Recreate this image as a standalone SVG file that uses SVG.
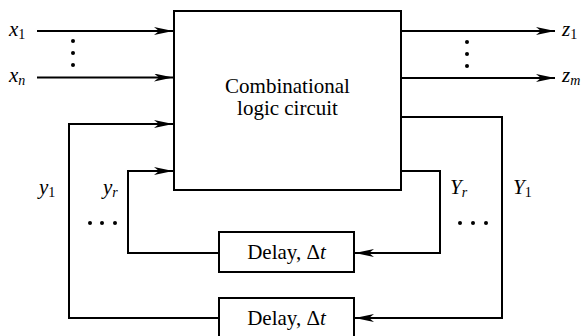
<svg xmlns="http://www.w3.org/2000/svg" width="582" height="336" viewBox="0 0 582 336">
<style>
.ln{fill:none;stroke:#000;stroke-width:2}
.bx{fill:#fff;stroke:#000;stroke-width:2}
.dot{fill:#000}
</style>
<defs>
<marker id="ah" viewBox="0 0 19 8" refX="19" refY="4" markerWidth="19" markerHeight="8" markerUnits="userSpaceOnUse" orient="auto">
<path d="M0,0 L19,4 L0,8 L5,4 Z" fill="#000"/>
</marker>
</defs>
<g font-family="Liberation Serif, serif" font-size="21" fill="#000">
<g id="combinational-logic">
<rect class="bx" x="174" y="11" width="227" height="179"/>
<text x="287.5" y="93" text-anchor="middle">Combinational</text>
<text x="287.5" y="115" text-anchor="middle">logic circuit</text>
</g>
<g id="delay-r">
<rect class="bx" x="219" y="232" width="135" height="40"/>
<text x="286.5" y="259" text-anchor="middle">Delay, Δ<tspan font-style="italic">t</tspan></text>
</g>
<g id="delay-1">
<rect class="bx" x="219" y="298" width="135" height="40"/>
<text x="286.5" y="325" text-anchor="middle">Delay, Δ<tspan font-style="italic">t</tspan></text>
</g>
<g id="labels" font-style="italic" font-size="21">
<text x="9" y="36">x<tspan font-size="14" font-style="normal" dy="3">1</tspan></text>
<text x="9" y="82">x<tspan font-size="14" dy="3">n</tspan></text>
<text x="562" y="36">z<tspan font-size="14" font-style="normal" dy="3">1</tspan></text>
<text x="562" y="82">z<tspan font-size="14" dy="3">m</tspan></text>
<text x="39" y="194">y<tspan font-size="14" font-style="normal" dy="3">1</tspan></text>
<text x="103" y="194">y<tspan font-size="14" dy="3">r</tspan></text>
<text x="450" y="194">Y<tspan font-size="14" dy="3">r</tspan></text>
<text x="513" y="194">Y<tspan font-size="14" font-style="normal" dy="3">1</tspan></text>
</g>
</g>
<g id="connectors">
<line class="ln" x1="37" y1="31" x2="173" y2="31" marker-end="url(#ah)"/>
<line class="ln" x1="37" y1="77.5" x2="173" y2="77.5" marker-end="url(#ah)"/>
<line class="ln" x1="402" y1="31" x2="555" y2="31" marker-end="url(#ah)"/>
<line class="ln" x1="402" y1="78" x2="555" y2="78" marker-end="url(#ah)"/>
<polyline class="ln" points="401,117 502,117 502,318 355,318" marker-end="url(#ah)"/>
<polyline class="ln" points="401,171 440,171 440,253 355,253" marker-end="url(#ah)"/>
<polyline class="ln" points="219,318 69,318 69,124 173,124" marker-end="url(#ah)"/>
<polyline class="ln" points="219,253 128,253 128,171 173,171" marker-end="url(#ah)"/>
</g>
<g id="dots">
<circle class="dot" cx="73" cy="41" r="2"/>
<circle class="dot" cx="73" cy="53" r="2"/>
<circle class="dot" cx="73" cy="65" r="2"/>
<circle class="dot" cx="467" cy="42" r="2"/>
<circle class="dot" cx="467" cy="54" r="2"/>
<circle class="dot" cx="467" cy="66" r="2"/>
<circle class="dot" cx="90" cy="223" r="2"/>
<circle class="dot" cx="102" cy="223" r="2"/>
<circle class="dot" cx="115" cy="223" r="2"/>
<circle class="dot" cx="460" cy="223" r="2"/>
<circle class="dot" cx="473" cy="223" r="2"/>
<circle class="dot" cx="486" cy="223" r="2"/>
</g>
</svg>
